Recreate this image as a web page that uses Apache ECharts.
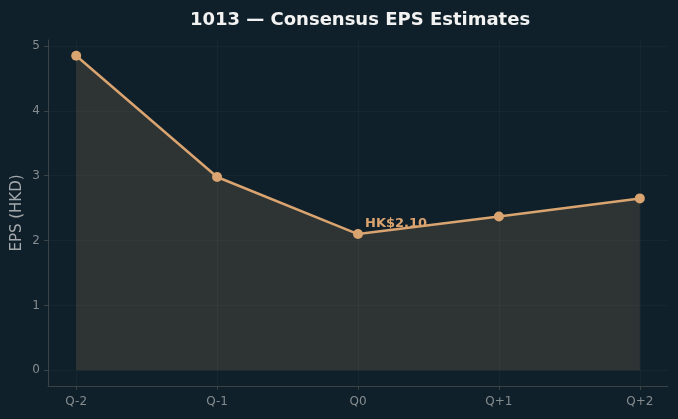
<!DOCTYPE html>
<html>
<head>
<meta charset="utf-8">
<script src="https://cdn.jsdelivr.net/npm/echarts@6/dist/echarts.min.js"></script>
<style>
  html, body { margin: 0; padding: 0; background: #10202a; }
  #chart { width: 678px; height: 419px; }
</style>
</head>
<body>
<div id="chart"></div>
<script>
var quarters = ['Q-2', 'Q-1', 'Q0', 'Q+1', 'Q+2'];
var epsValues = [4.85, 2.98, 2.10, 2.37, 2.65];
var yTicks = [0, 1, 2, 3, 4, 5];
var highlightIndex = 2;
var highlightText = 'HK$2.10';

var FONT = 'DejaVu Sans';
var lineColor = '#d9a46f';
var axisColor = '#3b4244';
var labelColor = '#858c8f';
var gridColor = 'rgba(255,255,255,0.028)';

var xIdx = quarters.map(function (q, i) { return i; });

var points = epsValues.map(function (v, i) {
  var item = { value: [i, v] };
  if (i === highlightIndex) {
    item.label = {
      show: true,
      formatter: highlightText,
      position: 'right',
      distance: 5,
      offset: [-3, -10],
      color: lineColor,
      fontFamily: FONT,
      fontWeight: 'bold',
      fontSize: 13
    };
  }
  return item;
});

var gridLines = [];
xIdx.forEach(function (i) { gridLines.push({ xAxis: i }); });
yTicks.forEach(function (t) { gridLines.push({ yAxis: t }); });

var chart = echarts.init(document.getElementById('chart'), null, { renderer: 'canvas' });

chart.setOption({
  backgroundColor: '#10202a',
  animation: false,
  title: {
    text: '1013 \u2014 Consensus EPS Estimates',
    left: 355,
    textAlign: 'center',
    top: 6,
    textStyle: { color: '#f2f2f2', fontFamily: FONT, fontWeight: 'bold', fontSize: 18 }
  },
  grid: { left: 48, right: 10, top: 40, bottom: 33, containLabel: false, outerBoundsMode: 'none' },
  xAxis: {
    type: 'value',
    min: -0.2,
    max: 4.2,
    axisLine: { show: true, onZero: false, lineStyle: { color: axisColor, width: 1 } },
    axisTick: { show: true, customValues: xIdx, length: 4, lineStyle: { color: axisColor } },
    axisLabel: {
      customValues: xIdx,
      formatter: function (v) { return quarters[Math.round(v)]; },
      color: labelColor, fontFamily: FONT, fontSize: 12, margin: 10
    },
    splitLine: { show: false }
  },
  yAxis: {
    type: 'value',
    min: -0.2425,
    max: 5.0925,
    name: 'EPS (HKD)',
    nameLocation: 'middle',
    nameGap: 23,
    nameMoveOverlap: false,
    nameTextStyle: { color: '#a3a9ac', fontFamily: FONT, fontSize: 15 },
    axisLine: { show: true, onZero: false, lineStyle: { color: axisColor, width: 1 } },
    axisTick: { show: true, customValues: yTicks, length: 4, lineStyle: { color: axisColor } },
    axisLabel: {
      customValues: yTicks,
      color: labelColor, fontFamily: FONT, fontSize: 12, margin: 8
    },
    splitLine: { show: false }
  },
  series: [
    {
      type: 'line',
      data: [],
      silent: true,
      markLine: {
        silent: true,
        symbol: 'none',
        label: { show: false },
        lineStyle: { color: gridColor, width: 1, type: 'solid' },
        data: gridLines
      }
    },
    {
      type: 'line',
      data: points,
      symbol: 'circle',
      symbolSize: 10,
      lineStyle: { color: lineColor, width: 2.5 },
      itemStyle: { color: lineColor },
      areaStyle: { color: '#2e3434', opacity: 1, origin: 0 },
      z: 3
    }
  ]
});
</script>
</body>
</html>
